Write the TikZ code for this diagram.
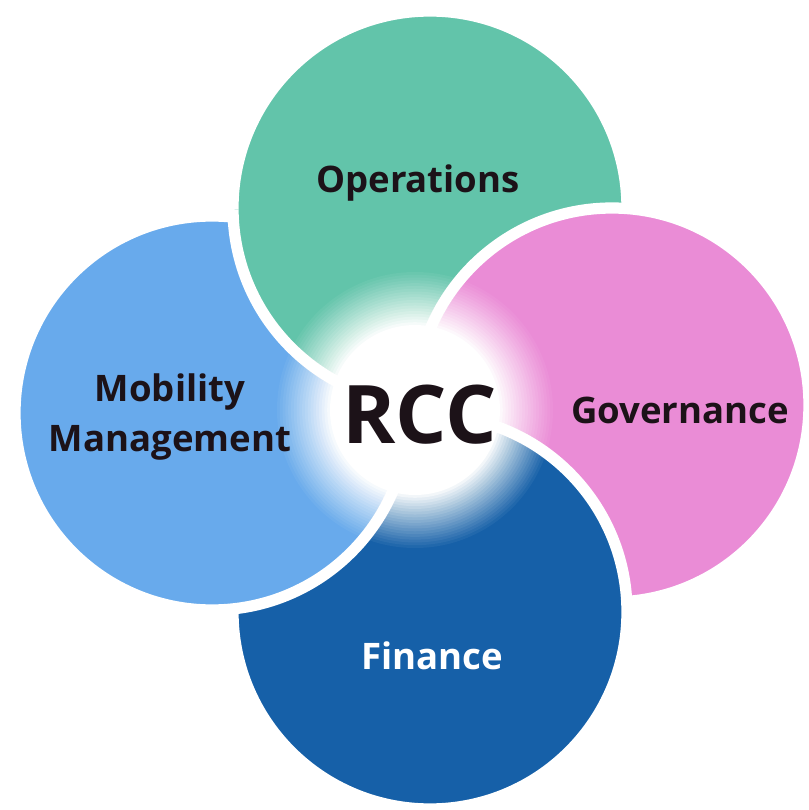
\documentclass[tikz,border=0pt]{standalone}
\usepackage{fontspec}
\setmainfont{Open Sans}
\usetikzlibrary{positioning}
\definecolor{opsteal}{RGB}{98, 196, 170}
\definecolor{govpink}{RGB}{234, 140, 214}
\definecolor{mobblue}{RGB}{104, 170, 236}
\definecolor{finblue}{RGB}{22, 96, 168}
\definecolor{ink}{RGB}{28, 18, 24}
\tikzstyle{petal} = [draw=white, line width=3.2pt]
\tikzstyle{area} = [text=ink, font=\fontsize{10.4}{14.2}\selectfont\bfseries, align=center]
\tikzstyle{hub} = [text=ink, font=\fontsize{23}{27}\selectfont\bfseries]
\newcommand{\rad}{1.97}

\begin{document}
\begin{tikzpicture}
    \useasboundingbox (0,0) rectangle (8.09,8.10);

    % Circle centres
    \coordinate (ops) at (4.30,6.02);
    \coordinate (gov) at (6.12,4.05);
    \coordinate (fin) at (4.30,1.98);
    \coordinate (mob) at (2.12,3.97);
    \coordinate (core) at (4.15,4.00);

    % Pinwheel: each circle lies over the next one
    \filldraw[petal, fill=opsteal] (ops) circle (\rad);
    \filldraw[petal, fill=govpink] (gov) circle (\rad);
    \filldraw[petal, fill=finblue] (fin) circle (\rad);
    \filldraw[petal, fill=mobblue] (mob) circle (\rad);
    \begin{scope}
        \clip (mob) circle (\rad+0.08);
        \filldraw[petal, fill=opsteal] (ops) circle (\rad);
    \end{scope}

    % Glow: stacked white discs, solid in the middle
    \foreach \k [evaluate=\k as \r using {1.38-(\k-1)*0.0279},
                 evaluate=\k as \op using {1/(21-\k)}] in {1,...,20}
        \fill[white, opacity=\op] (core) circle (\r);

    % Labels
    \node[area] (opslbl) at (4.18,6.27) {Operations};
    \node[area] (govlbl) at (6.80,4.00) {Governance};
    \node[area] (moblbl) at (1.70,3.93) {Mobility\\Management};
    \node[area, text=white] (finlbl) at (4.32,1.54) {Finance};
    \node[hub] (rcc) at (4.20,3.95) {RCC};
\end{tikzpicture}
\end{document}
